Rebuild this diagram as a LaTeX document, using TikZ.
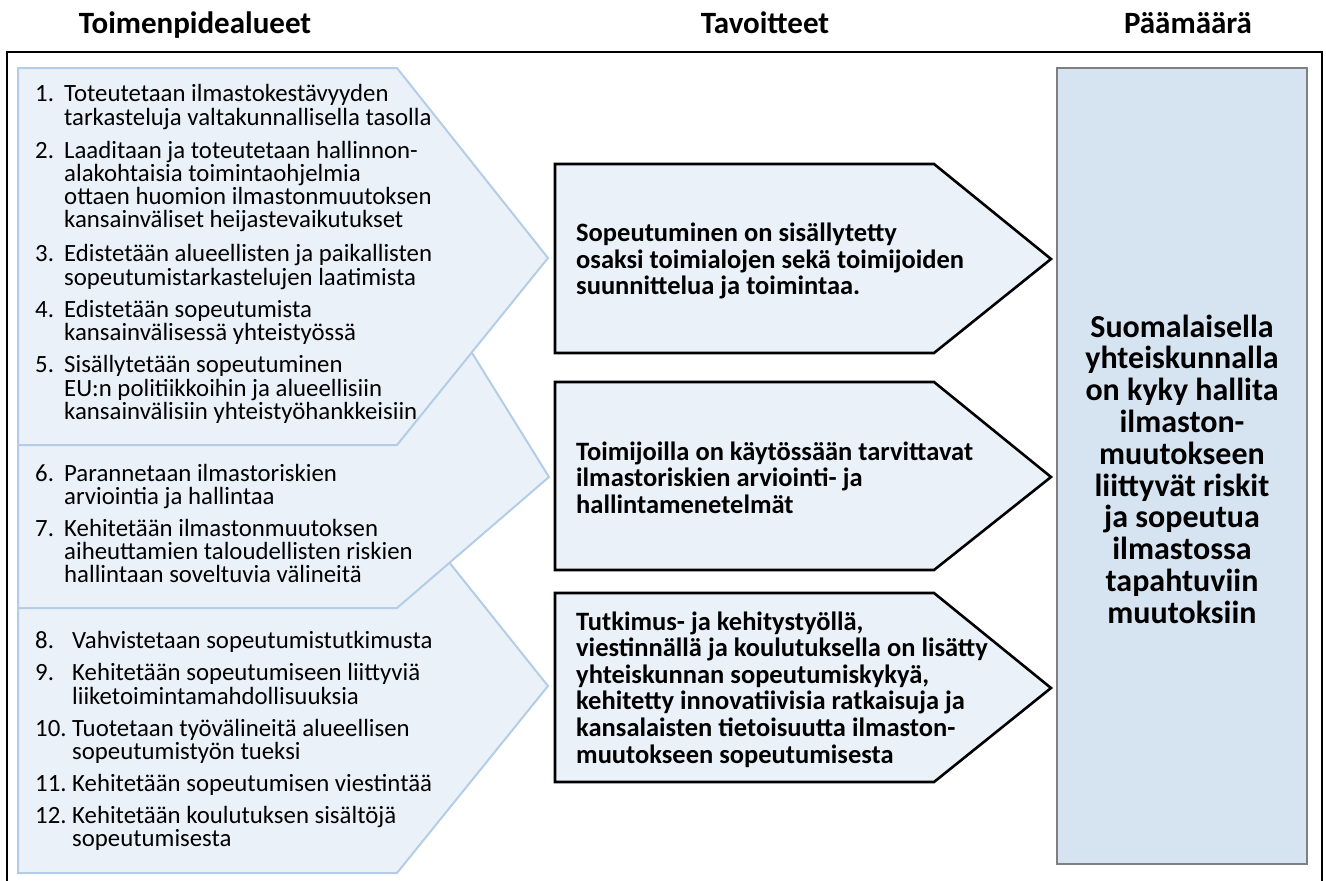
\documentclass[tikz,border=0pt]{standalone}
\usepackage{fontspec}
\setmainfont{Carlito}
\definecolor{chfill}{HTML}{EAF1F8}
\definecolor{chline}{HTML}{B4CDE6}
\definecolor{goalfill}{HTML}{D6E3F0}
\definecolor{goalline}{HTML}{7F7F7F}
\newcommand{\itm}[3][29pt]{\makebox[#1][l]{#2}\parbox[t]{440pt}{#3}}
\tikzset{
  leftchev/.style={fill=chfill, draw=chline, line width=2pt, line join=miter},
  midchev/.style={fill=chfill, draw=black, line width=2.6pt, line join=miter},
  goalbox/.style={fill=goalfill, draw=goalline, line width=1.2pt},
  outerframe/.style={draw=black, line width=2.6pt},
  titletext/.style={inner sep=0pt, anchor=base, font=\fontsize{31}{36}\selectfont\bfseries},
  itemtext/.style={inner sep=0pt, anchor=base west, font=\fontsize{24.8}{23.3}\selectfont},
  midtext/.style={inner sep=0pt, anchor=base west, font=\fontsize{26.5}{26.6}\selectfont\bfseries},
  goaltext/.style={inner sep=0pt, anchor=base, font=\fontsize{32}{31.8}\selectfont\bfseries}
}
\begin{document}
\begin{tikzpicture}[x=1pt,y=-1pt]
\useasboundingbox (0,0) rectangle (1326,881);
% titles
\node[titletext] (t1) at (195,33) {Toimenpidealueet};
\node[titletext] (t2) at (765,33) {Tavoitteet};
\node[titletext] (t3) at (1188,33) {Päämäärä};
% outer frame
\draw[outerframe] (7,884) -- (7,52) -- (1322,52) -- (1322,884);
% left chevrons (bottom first)
\draw[leftchev] (18,497) -- (397,497) -- (548,686) -- (397,873) -- (18,873) -- cycle;
\draw[leftchev] (18,232) -- (397,232) -- (549,477) -- (397,608) -- (18,608) -- cycle;
\draw[leftchev] (18,68) -- (397,68) -- (548,258) -- (397,445) -- (18,445) -- cycle;
% middle chevrons
\draw[midchev] (555,164) -- (934,164) -- (1051,259) -- (934,353) -- (555,353) -- cycle;
\draw[midchev] (555,382) -- (934,382) -- (1051,477) -- (934,570) -- (555,570) -- cycle;
\draw[midchev] (555,593) -- (934,593) -- (1051,688) -- (934,782) -- (555,782) -- cycle;
% goal box
\draw[goalbox] (1057,68) rectangle (1307,864);
% left items
\node[itemtext] (i1) at (35,101.7) {\itm{1.}{Toteutetaan ilmastokestävyyden\\tarkasteluja valtakunnallisella tasolla}};
\node[itemtext] (i2) at (35,158) {\itm{2.}{Laaditaan ja toteutetaan hallinnon-\\alakohtaisia toimintaohjelmia\\ottaen huomion ilmastonmuutoksen\\kansainväliset heijastevaikutukset}};
\node[itemtext] (i3) at (35,261.7) {\itm{3.}{Edistetään alueellisten ja paikallisten\\sopeutumistarkastelujen laatimista}};
\node[itemtext] (i4) at (35,317) {\itm{4.}{Edistetään sopeutumista\\kansainvälisessä yhteistyössä}};
\node[itemtext] (i5) at (35,372.7) {\itm{5.}{Sisällytetään sopeutuminen\\EU:n politiikkoihin ja alueellisiin\\kansainvälisiin yhteistyöhankkeisiin}};
\node[itemtext] (i6) at (35,481) {\itm{6.}{Parannetaan ilmastoriskien\\arviointia ja hallintaa}};
\node[itemtext] (i7) at (35,536) {\itm{7.}{Kehitetään ilmastonmuutoksen\\aiheuttamien taloudellisten riskien\\hallintaan soveltuvia välineitä}};
\node[itemtext] (i8) at (35,648) {\itm[37pt]{8.}{Vahvistetaan sopeutumistutkimusta}};
\node[itemtext] (i9) at (35,680.7) {\itm[37pt]{9.}{Kehitetään sopeutumiseen liittyviä\\liiketoimintamahdollisuuksia}};
\node[itemtext] (i10) at (35,736) {\itm[37pt]{10.}{Tuotetaan työvälineitä alueellisen\\sopeutumistyön tueksi}};
\node[itemtext] (i11) at (35,791) {\itm[37pt]{11.}{Kehitetään sopeutumisen viestintää}};
\node[itemtext] (i12) at (35,823) {\itm[37pt]{12.}{Kehitetään koulutuksen sisältöjä\\sopeutumisesta}};
% middle texts
\node[midtext] (m1) at (576,241.7) {\parbox[t]{470pt}{Sopeutuminen on sisällytetty\\osaksi toimialojen sekä toimijoiden\\suunnittelua ja toimintaa.}};
\node[midtext] (m2) at (576,460) {\parbox[t]{470pt}{Toimijoilla on käytössään tarvittavat\\ilmastoriskien arviointi- ja\\hallintamenetelmät}};
\node[midtext] (m3) at (576,630) {\parbox[t]{470pt}{Tutkimus- ja kehitystyöllä,\\viestinnällä ja koulutuksella on lisätty\\yhteiskunnan sopeutumiskykyä,\\kehitetty innovatiivisia ratkaisuja ja\\kansalaisten tietoisuutta ilmaston-\\muutokseen sopeutumisesta}};
% goal text
\node[goaltext] (g) at (1182,337) {\parbox[t]{240pt}{\centering Suomalaisella\\yhteiskunnalla\\on kyky hallita\\ilmaston-\\muutokseen\\liittyvät riskit\\ja sopeutua\\ilmastossa\\tapahtuviin\\muutoksiin}};
\end{tikzpicture}
\end{document}
